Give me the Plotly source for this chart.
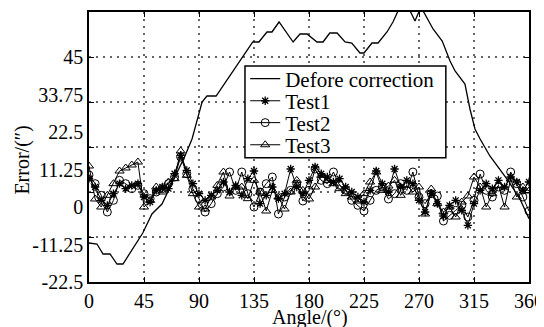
import plotly.graph_objects as go

# ---- data ----
before_angle = [0, 6.5, 11.5, 17.2, 22.9, 27.8, 44, 51.5, 59.7, 78.5, 84.3, 92.5, 96.5, 104,
                134, 139, 145.6, 149.7, 155.5, 167, 172.6, 178.4, 186.5, 191.5, 197, 203,
                209.5, 215, 221.7, 225, 231.5, 236.5, 243.8, 248.7, 257.7, 266.7, 271.6,
                281.5, 289, 295.4, 299.5, 307.6, 311.7, 315.8, 320, 328, 342, 352.6, 360]
before_err = [-10.8, -11.1, -14.1, -14.1, -17.1, -17.1, -7.8, -2.1, 0.9, 15.3, 20.4, 31.5, 33.3, 33.3,
              49.5, 49.5, 52.5, 52.5, 55.5, 49.5, 51.9, 51.9, 49.5, 49.5, 52.2, 52.2,
              49.5, 49.2, 46.2, 46.2, 49.2, 49.2, 52.5, 55.5, 62.7, 55.8, 60.0,
              53.4, 49.8, 43.8, 40.8, 36.9, 29.4, 23.4, 20.4, 15.3, 8.4, 2.4, -3.5]

test_angle = list(range(0, 361, 5))
test1 = [8.5, 6, 2, 0.5, 4, 7, 5.5, 6.5, 7, 3, 1.5, 5, 6, 5.5, 10, 15.5, 11, 7, 4, 2,
         3.5, 5, 7.5, 4.5, 6.5, 3.5, 8.5, 10.8, 1, 3.5, 6, 2.5, 4, 11.4, 6, 4, 8, 12,
         10, 9, 7.5, 8.5, 6, 4.5, 3, 1.5, 5, 10.8, 7, 4.5, 11.4, 6, 8, 7, 2, -1.5, 4,
         1, -2.7, 0.5, 2, -1, -5.5, 1, 5, 7, 5.5, 8, 6, 9, 7.5, 5, 7.5]
test2 = [9.6, 7, 3.5, -1.5, 2, 8, 7, 5.5, 6.5, 4, 2.5, 4.5, 5.5, 7, 9, 15, 10, 5.4, 2.5, -1.5,
         1, 4, 6, 10.5, 5, 10.5, 4, 0, 4.5, 7, 9, -2.1, 3, 5, 6.9, 1.8, 5, 11.4, 8, 7,
         10.5, 6.5, 5, 2, 0.5, -1.2, 2, 5, 6, 2.4, 4, 7, 5, 10.5, 3, 1, 4, 3.3, -4.2,
         -2.5, -1, 0.5, -3, 2, 9.9, 5, 3, 6, 5, 10.5, 7, 3, -1.2]
test3 = [12.3, 2.4, 0, 3.5, 7, 10.8, 11.7, 12.6, 13.5, 0, 2, 6, 4.5, 7.5, 8.5, 16.8, 9.5, 4, 0, -0.6,
         3, 6.5, 10.5, 3.3, 6, 6, 2.5, 8, 4.5, -1.2, 5, 3, -0.6, 4.5, 8, 5, 2.4, 6, 9.5, 8,
         7, 5.5, 4, 3, 1.8, 4, 7.5, 10.5, 5, 6.3, 8, 3.5, 6.5, 4.5, 6, -2.1, 5.4, 1, -1.5,
         0, -3, 1.5, 3.3, 9, 6, 0, 4, 6.5, 0, 8.4, 3, 6, 4.8]

x_ticks = [0, 45, 90, 135, 180, 225, 270, 315, 360]
y_labels = [-22.5, -11.25, 0, 11.25, 22.5, 33.75, 45]
y_label_text = ["-22.5", "-11.25", "0", "11.25", "22.5", "33.75", "45"]
y_range = [-22.5, 58.5]
y_grid_step = 13.5

FONT = "Liberation Serif, Times New Roman, Times, DejaVu Serif, serif"
GRID = "#666666"

fig = go.Figure()
fig.add_trace(go.Scatter(x=before_angle, y=before_err, mode="lines", name="Defore correction",
                         yaxis="y", legend="legend",
                         line=dict(color="black", width=1.3)))
fig.add_trace(go.Scatter(x=test_angle, y=test1, mode="lines+markers", name="Test1",
                         yaxis="y2", legend="legend2",
                         line=dict(color="black", width=1),
                         marker=dict(symbol="asterisk-open", size=7, color="black",
                                     line=dict(color="black", width=1.3))))
fig.add_trace(go.Scatter(x=test_angle, y=test2, mode="lines+markers", name="Test2",
                         yaxis="y2", legend="legend3",
                         line=dict(color="black", width=1),
                         marker=dict(symbol="circle-open", size=8, color="black",
                                     line=dict(color="black", width=1))))
fig.add_trace(go.Scatter(x=test_angle, y=test3, mode="lines+markers", name="Test3",
                         yaxis="y2", legend="legend4",
                         line=dict(color="black", width=1),
                         marker=dict(symbol="triangle-up-open", size=8, color="black",
                                     line=dict(color="black", width=1))))

# legend frame (paper coords); entries placed as separate legends to match the tight spacing
LEG_X = 0.355
leg_common = dict(x=LEG_X, xanchor="left", yanchor="middle", bgcolor="rgba(0,0,0,0)",
                  borderwidth=0, font=dict(family=FONT, size=21, color="black"),
                  itemwidth=30)
fig.add_shape(type="rect", xref="paper", yref="paper", x0=0.3545, x1=0.811, y0=0.46, y1=0.80,
              line=dict(color="black", width=1.5), fillcolor="white", layer="above")

fig.add_annotation(text="Angle/(°)", xref="paper", yref="paper", x=0.502, y=-0.133,
                   xanchor="center", yanchor="middle", showarrow=False,
                   font=dict(family=FONT, size=20, color="black"))
fig.add_annotation(text="Error/(″)", xref="paper", yref="paper", x=-0.152, y=0.45,
                   xanchor="center", yanchor="middle", textangle=-90, showarrow=False,
                   font=dict(family=FONT, size=20, color="black"))

# the page body has an 8px margin, so the figure is sized/offset to compensate
fig.update_layout(
    width=536, height=319,
    margin=dict(l=81, r=15, t=4, b=45, autoexpand=False),
    paper_bgcolor="white", plot_bgcolor="white",
    font=dict(family=FONT, size=20, color="black"),
    showlegend=True,
    legend=dict(y=0.752, **leg_common),
    legend2=dict(y=0.670, **leg_common),
    legend3=dict(y=0.589, **leg_common),
    legend4=dict(y=0.507, **leg_common),
    xaxis=dict(range=[0, 360], tickvals=x_ticks, showgrid=True, gridcolor=GRID,
               gridwidth=2, griddash="2px,5px", ticks="inside", ticklen=5,
               tickcolor="black", showline=True, linecolor="black", linewidth=1.5,
               mirror="ticks", zeroline=False, automargin=False,
               tickfont=dict(family=FONT, size=20)),
    yaxis=dict(range=y_range, tickvals=y_labels, ticktext=y_label_text, showgrid=False,
               ticks="", showline=True, linecolor="black", linewidth=1.5, mirror=True,
               zeroline=False, automargin=False, tickfont=dict(family=FONT, size=20)),
    yaxis2=dict(range=y_range, overlaying="y", side="left", tick0=y_range[0],
                dtick=y_grid_step, showgrid=True, gridcolor=GRID, gridwidth=2,
                griddash="2px,5px", ticks="inside", ticklen=5, tickcolor="black",
                showticklabels=False, showline=True, linecolor="black", linewidth=1.5,
                mirror="ticks", zeroline=False, automargin=False),
)

fig.write_html("out.html")
